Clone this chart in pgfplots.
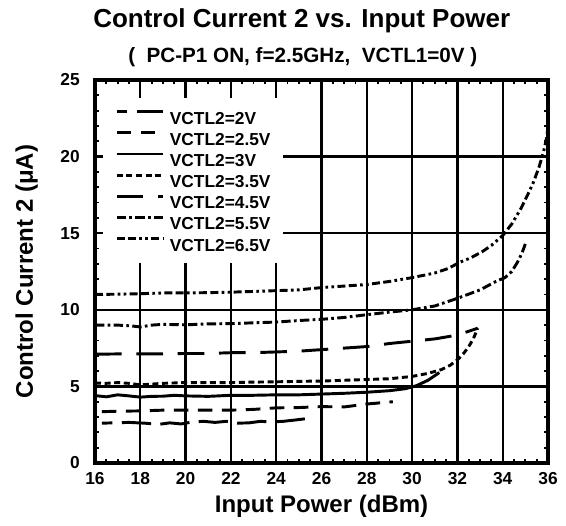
\documentclass[border=0pt]{standalone}
\usepackage{pgfplots}
\pgfplotsset{compat=1.18}
\usepackage{fontspec}
\setmainfont{Liberation Sans}
\begin{document}
\begin{tikzpicture}
\begin{axis}[
  name=ax,
  scale only axis, width=339.75pt, height=287.25pt,
  xmin=16, xmax=36, ymin=0, ymax=25,
  xtick={16,18,...,36}, ytick={0,5,...,25},
  minor x tick num=3, minor y tick num=4,
  tick align=inside, xtick pos=both, ytick pos=both,
  xticklabel pos=left, yticklabel pos=left,
  major tick length=4pt, minor tick length=3pt,
  tick style={black, line width=1.4pt},
  grid=major, major grid style={black, line width=1.7pt},
  axis line style={line width=2.5pt},
  /pgf/number format/assume math mode=true,
  ticklabel style={font=\fontsize{13}{15}\selectfont\bfseries},
  xticklabel style={anchor=north, inner sep=0pt, yshift=-6.75pt},
  yticklabel style={anchor=east, inner sep=0pt, xshift=-11.25pt},
  legend style={at={(rel axis cs:0.0177,0.953)}, anchor=north west, fill=white, draw=none,
    font=\fontsize{13}{15}\selectfont\bfseries, inner xsep=9pt, inner ysep=9pt,
    row sep=5.35pt, column sep=3.75pt,
    nodes={inner sep=0pt, text height=9.4pt, text depth=0pt}},
  legend cell align=left,
  legend image code/.code={\draw[#1] (0pt,4.7pt) -- (35pt,4.7pt);},
  every axis plot/.append style={black, line width=2.2pt},
]
% VCTL2=2V
\addplot[black, dash pattern=on 22pt off 7pt, dash phase=14pt] coordinates {
(16.3,2.6) (16.8,2.62) (17.5,2.65) (18.2,2.6) (18.8,2.52) (19.3,2.62) (19.8,2.55) (20.3,2.68) (20.8,2.72) (21.3,2.65) (21.8,2.72) (22.3,2.6) (22.8,2.62) (23.3,2.72) (23.8,2.68) (24.3,2.72) (24.8,2.8) (25.35,2.9)};
\addlegendentry{VCTL2=2V}
% VCTL2=2.5V
\addplot[black, dash pattern=on 11pt off 7pt] coordinates {
(16.3,3.35) (17,3.38) (18,3.4) (19,3.45) (20,3.45) (21,3.45) (22,3.45) (23,3.5) (24,3.6) (25,3.62) (26,3.68) (27,3.66) (28,3.85) (29.15,4.0)};
\addlegendentry{VCTL2=2.5V}
% VCTL2=3V
\addplot[black, solid] coordinates {
(16,4.4) (16.5,4.32) (17,4.45) (17.5,4.38) (18,4.3) (18.5,4.35) (19,4.36) (19.5,4.42) (20,4.38) (21,4.35) (22,4.42) (23,4.42) (24,4.45) (25,4.45) (26,4.5) (27,4.55) (28,4.62) (29,4.72) (29.7,4.85) (30.2,5.05) (30.7,5.4) (31.2,5.9)};
\addlegendentry{VCTL2=3V}
% VCTL2=3.5V
\addplot[black, dash pattern=on 4.5pt off 2.7pt] coordinates {
(16,5.22) (16.5,5.2) (17,5.25) (17.5,5.2) (18,5.1) (18.5,5.15) (19,5.2) (20,5.25) (21,5.25) (22,5.25) (23,5.28) (24,5.3) (25,5.33) (26,5.35) (27,5.4) (28,5.45) (29,5.5) (30,5.65) (30.7,5.85) (31.3,6.1) (31.7,6.4) (32.05,6.8) (32.3,7.2) (32.5,7.6) (32.7,8.1) (32.9,8.8)};
\addlegendentry{VCTL2=3.5V}
% VCTL2=4.5V
\addplot[black, dash pattern=on 20pt off 11pt] coordinates {
(16,7.1) (17,7.12) (18,7.12) (19,7.12) (20,7.15) (21,7.15) (22,7.2) (23,7.2) (24,7.25) (25,7.3) (26,7.4) (27,7.5) (28,7.6) (29,7.8) (30,7.95) (31,8.1) (32,8.35) (32.9,8.8)};
\addlegendentry{VCTL2=4.5V}
% VCTL2=5.5V
\addplot[black, dash pattern=on 7pt off 2.5pt on 2pt off 2.5pt] coordinates {
(16,9.0) (17,9.0) (17.6,8.95) (18,8.88) (18.5,9.0) (19,9.05) (20,9.02) (21,9.08) (22,9.1) (23,9.15) (24,9.2) (25,9.3) (26,9.38) (27,9.5) (28,9.68) (29,9.85) (30,10.0) (31,10.25) (32,10.75) (33,11.3) (33.7,11.85) (34.1,12.1) (34.4,12.5) (34.65,13.1) (34.85,13.7) (35.0,14.3)};
\addlegendentry{VCTL2=5.5V}
% VCTL2=6.5V
\addplot[black, dash pattern=on 6pt off 2.5pt on 6pt off 2.5pt on 2pt off 2.5pt on 2pt off 2.5pt] coordinates {
(16,11.0) (17,11.02) (18,11.05) (19,11.1) (20,11.1) (21,11.12) (22,11.15) (23,11.2) (24,11.25) (25,11.3) (26,11.45) (27,11.55) (28,11.65) (29,11.85) (30,12.1) (31,12.4) (31.6,12.7) (32.1,13.1) (32.6,13.4) (33.1,13.8) (33.5,14.2) (34,14.85) (34.4,15.6) (34.8,16.6) (35.1,17.5) (35.35,18.3) (35.6,19.3) (35.8,20.3) (35.95,21.3) (36,22.0)};
\addlegendentry{VCTL2=6.5V}
\end{axis}
\node[anchor=base west, inner sep=0pt, font=\fontsize{19.5}{23}\selectfont\bfseries]
  at ([xshift=-1.5pt, yshift=39.5pt]ax.north west) {Control Current 2 vs. Input Power};
\node[anchor=base west, inner sep=0pt, font=\fontsize{15.5}{18}\selectfont\bfseries]
  at ([xshift=24.75pt, yshift=12.75pt]ax.north west)
  {(\ \ PC-P1 ON, f=2.5GHz,\ \ VCTL1=0V )};
\node[rotate=90, anchor=base, inner sep=0pt, font=\fontsize{18}{22}\selectfont\bfseries]
  at ([xshift=-46.5pt]ax.west) {Control Current 2 (μA)};
\node[anchor=base, inner sep=0pt, font=\fontsize{18}{22}\selectfont\bfseries]
  at ([yshift=-36.75pt]ax.south) {Input Power (dBm)};
\pgfresetboundingbox
\path ([xshift=-71.25pt, yshift=-46.5pt]ax.south west) rectangle ([xshift=13.5pt, yshift=60pt]ax.north east);
\end{tikzpicture}
\end{document}
